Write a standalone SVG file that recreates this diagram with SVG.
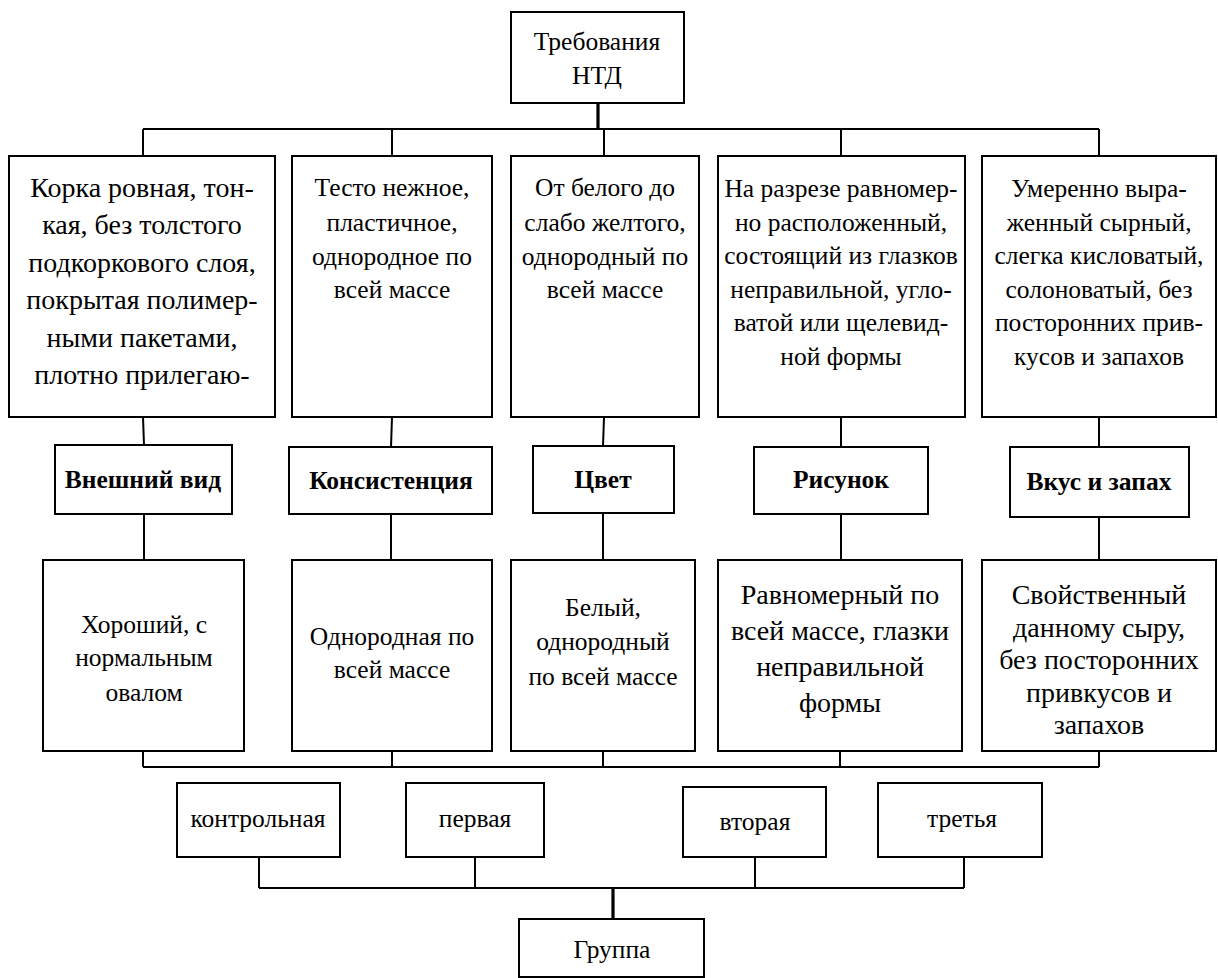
<svg xmlns="http://www.w3.org/2000/svg" width="1218" height="978" viewBox="0 0 1218 978" font-family="'Liberation Serif', 'DejaVu Serif', serif">
<style>
.box{fill:#fff;stroke:#000;stroke-width:2}
text{font-family:'Liberation Serif','DejaVu Serif',serif}
.t{font-size:25.5px;fill:#000;text-anchor:middle}
.big{font-size:28px}
.b{font-weight:bold;font-size:25.5px}
.c{fill:none;stroke:#000;stroke-width:2}
.ct{fill:none;stroke:#000;stroke-width:3.2}
</style>
<rect width="1218" height="978" fill="#fff"/>
<g id="connectors">
<path class="ct" d="M598 103V129"/>
<path class="c" d="M143 129H1099M143 129V156M392 129V156M604 129V156M841 129V156M1099 129V156"/>
<path class="c" d="M143 417L144 445M392 417L391 447M604 417L603 446M841 417V447M1099 417V447"/>
<path class="c" d="M144 514V560M391 514V560M603 513V560M841 514V560M1099 517V560"/>
<path class="c" d="M143 751V767M392 751V767M603 751V767M840 751V767M1099 751V767M143 767H1099"/>
<path class="c" d="M259 857V888M475 857V888M755 857V888M964 857V888M259 888H964"/>
<path class="ct" d="M613 888V919"/>
</g>
<g id="top"><rect class="box" x="511" y="12" width="173" height="91"/>
<text class="t" x="597" y="50">Требования</text><text class="t" x="597" y="84">НТД</text></g>
<g id="r1c1"><rect class="box" x="9" y="156" width="266" height="261"/>
<text class="t big"><tspan x="142" y="197">Корка ровная, тон-</tspan><tspan x="142" y="234">кая, без толстого</tspan><tspan x="142" y="272">подкоркового слоя,</tspan><tspan x="142" y="309">покрытая полимер-</tspan><tspan x="142" y="347">ными пакетами,</tspan><tspan x="142" y="384">плотно прилегаю-</tspan></text></g>
<g id="r1c2"><rect class="box" x="292" y="156" width="200" height="261"/>
<text class="t"><tspan x="392" y="196">Тесто нежное,</tspan><tspan x="392" y="231">пластичное,</tspan><tspan x="392" y="265">однородное по</tspan><tspan x="392" y="298">всей массе</tspan></text></g>
<g id="r1c3"><rect class="box" x="511" y="156" width="188" height="261"/>
<text class="t"><tspan x="605" y="196">От белого до</tspan><tspan x="605" y="231">слабо желтого,</tspan><tspan x="605" y="265">однородный по</tspan><tspan x="605" y="298">всей массе</tspan></text></g>
<g id="r1c4"><rect class="box" x="718" y="156" width="247" height="261"/>
<text class="t"><tspan x="841" y="197">На разрезе равномер-</tspan><tspan x="841" y="231">но расположенный,</tspan><tspan x="841" y="264">состоящий из глазков</tspan><tspan x="841" y="298">неправильной, угло-</tspan><tspan x="841" y="331">ватой или щелевид-</tspan><tspan x="841" y="365">ной формы</tspan></text></g>
<g id="r1c5"><rect class="box" x="982" y="156" width="234" height="261"/>
<text class="t"><tspan x="1099" y="197">Умеренно выра-</tspan><tspan x="1099" y="231">женный сырный,</tspan><tspan x="1099" y="264">слегка кисловатый,</tspan><tspan x="1099" y="298">солоноватый, без</tspan><tspan x="1099" y="331">посторонних прив-</tspan><tspan x="1099" y="365">кусов и запахов</tspan></text></g>
<g id="l1"><rect class="box" x="55" y="445" width="177" height="69"/><text class="t b" x="143" y="488">Внешний вид</text></g>
<g id="l2"><rect class="box" x="289" y="447" width="203" height="67"/><text class="t b" x="391" y="489">Консистенция</text></g>
<g id="l3"><rect class="box" x="533" y="446" width="141" height="67"/><text class="t b" x="603" y="488">Цвет</text></g>
<g id="l4"><rect class="box" x="754" y="447" width="174" height="67"/><text class="t b" x="841" y="488">Рисунок</text></g>
<g id="l5"><rect class="box" x="1010" y="447" width="179" height="70"/><text class="t b" x="1099" y="490">Вкус и запах</text></g>
<g id="r3c1"><rect class="box" x="43" y="560" width="201" height="191"/>
<text class="t"><tspan x="144" y="633">Хороший, с</tspan><tspan x="144" y="666">нормальным</tspan><tspan x="144" y="701">овалом</tspan></text></g>
<g id="r3c2"><rect class="box" x="292" y="560" width="200" height="191"/>
<text class="t"><tspan x="392" y="645">Однородная по</tspan><tspan x="392" y="678">всей массе</tspan></text></g>
<g id="r3c3"><rect class="box" x="511" y="560" width="184" height="191"/>
<text class="t"><tspan x="603" y="616">Белый,</tspan><tspan x="603" y="650">однородный</tspan><tspan x="603" y="685">по всей массе</tspan></text></g>
<g id="r3c4"><rect class="box" x="718" y="560" width="244" height="191"/>
<text class="t big"><tspan x="840" y="604">Равномерный по</tspan><tspan x="840" y="640">всей массе, глазки</tspan><tspan x="840" y="676">неправильной</tspan><tspan x="840" y="712">формы</tspan></text></g>
<g id="r3c5"><rect class="box" x="982" y="560" width="234" height="191"/>
<text class="t big"><tspan x="1099" y="604">Свойственный</tspan><tspan x="1099" y="637">данному сыру,</tspan><tspan x="1099" y="669">без посторонних</tspan><tspan x="1099" y="702">привкусов и</tspan><tspan x="1099" y="734">запахов</tspan></text></g>
<g id="g1"><rect class="box" x="177" y="783" width="163" height="74"/><text class="t" x="258" y="827">контрольная</text></g>
<g id="g2"><rect class="box" x="406" y="783" width="138" height="74"/><text class="t" x="475" y="827">первая</text></g>
<g id="g3"><rect class="box" x="683" y="787" width="143" height="70"/><text class="t" x="755" y="830">вторая</text></g>
<g id="g4"><rect class="box" x="878" y="783" width="164" height="74"/><text class="t" x="962" y="827">третья</text></g>
<g id="group"><rect class="box" x="519" y="919" width="185" height="58"/><text class="t" x="612" y="958">Группа</text></g>
</svg>
